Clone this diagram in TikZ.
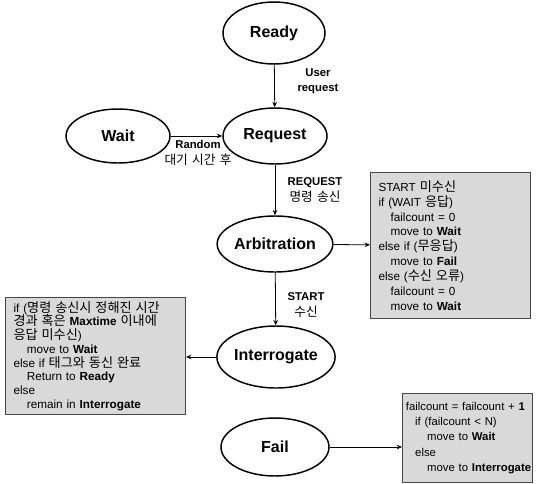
\documentclass[tikz,border=0pt]{standalone}
\usepackage{fontspec}
\setmainfont{Liberation Sans}
\newfontfamily\kr[Scale=1.12,WordSpace=1.5]{Noto Sans CJK KR}
\usetikzlibrary{shapes.geometric,arrows.meta}
\definecolor{boxfill}{RGB}{217,217,217}
\definecolor{boxline}{RGB}{70,70,70}
\begin{document}
\begin{tikzpicture}[x=0.75pt,y=-0.75pt,
  state/.style={ellipse,draw,line width=1.1pt,inner sep=0pt,
    font=\fontsize{12}{14}\selectfont\bfseries},
  note/.style={rectangle,draw=boxline,fill=boxfill,line width=0.8pt,
    anchor=north west,align=left,inner ysep=0pt,
    font=\fontsize{8.8}{11.2}\selectfont},
  lbl/.style={align=center,inner sep=0pt,
    font=\fontsize{8.5}{11.5}\selectfont},
  flow/.style={-{Stealth[length=4pt,width=3.5pt]},line width=0.6pt}]
\useasboundingbox (0,0) rectangle (536,483);

% states
\node[state,minimum width=76.5pt,minimum height=46.5pt] (ready) at (274,33) {Ready};
\node[state,minimum width=78pt,minimum height=42pt] (request) at (275,136) {Request};
\node[state,minimum width=78pt,minimum height=40.5pt] (wait) at (118,136) {Wait};
\node[state,minimum width=79.5pt,minimum height=42pt] (arb) at (275,244) {Arbitration};
\node[state,minimum width=82.5pt,minimum height=46.5pt] (inter) at (276,357) {Interrogate};
\node[state,minimum width=81pt,minimum height=43.5pt] (fail) at (275,447) {Fail};

% decision notes
\node[note,inner xsep=6pt,text width=108pt,minimum height=109.5pt] (n1) at (370,172) {%
START {\kr 미수신}\\
if (WAIT {\kr 응답})\\
\hspace*{9pt}failcount = 0\\
\hspace*{9pt}move to \textbf{Wait}\\
else if ({\kr 무응답})\\
\hspace*{9pt}move to \textbf{Fail}\\
else ({\kr 수신 오류})\\
\hspace*{9pt}failcount = 0\\
\hspace*{9pt}move to \textbf{Wait}};

\node[note,inner xsep=6pt,text width=123pt,minimum height=87.75pt,
      font=\fontsize{8.8}{10.3}\selectfont] (n2) at (5,297) {%
if ({\kr 명령 송신시 정해진 시간}\\
{\kr 경과 혹은} \textbf{Maxtime} {\kr 이내에}\\
{\kr 응답 미수신})\\
\hspace*{10pt}move to \textbf{Wait}\\
else if {\kr 태그와 동신 완료}\\
\hspace*{10pt}Return to \textbf{Ready}\\
else\\
\hspace*{10pt}remain in \textbf{Interrogate}};

\node[note,inner xsep=2.5pt,text width=92.5pt,minimum height=66.75pt,
      font=\fontsize{8.5}{11.4}\selectfont] (n3) at (402,393) {%
\mbox{failcount = failcount + \textbf{1}}\\
\mbox{\hspace*{7pt}if (failcount < N)}\\
\mbox{\hspace*{16pt}move to \textbf{Wait}}\\
\mbox{\hspace*{7pt}else}\\
\mbox{\hspace*{16pt}move to \textbf{Interrogate}}};

% transitions
\draw[flow] (ready) -- (request);
\draw[flow] (wait) -- (request);
\draw[flow] (request) -- (arb);
\draw[flow] (arb) -- (inter);
\draw[flow] (arb) -- (n1);
\draw[flow] (inter.west) -- (inter.west -| n2.east);
\draw[flow] (fail.east) -- (fail.east -| n3.west);

% transition labels
\node[lbl] (l1) at (318,81) {\bfseries User\\\bfseries request};
\node[lbl] (l2) at (198,153) {\bfseries Random\\{\kr 대기 시간 후}};
\node[lbl] (l3) at (315,190) {\bfseries REQUEST\\{\kr 명령 송신}};
\node[lbl] (l4) at (306,305) {\bfseries START\\{\kr 수신}};
\end{tikzpicture}
\end{document}
